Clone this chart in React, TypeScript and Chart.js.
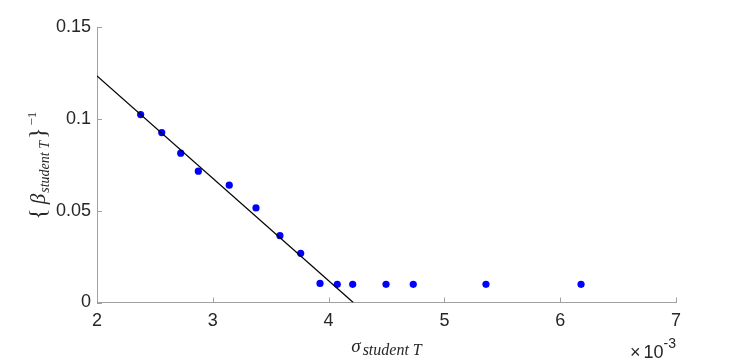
import React, { useEffect, useRef } from "react";
import { Chart, registerables } from "chart.js";

Chart.register(...registerables);

// sigma_student T, in units of 1e-3
const sigmaValues = [2.377, 2.559, 2.723, 2.875, 3.142, 3.373, 3.58, 3.759, 3.926, 4.075, 4.208, 4.496, 4.731, 5.359, 6.18];
const invBetaValues = [0.1023, 0.0925, 0.0813, 0.0715, 0.0639, 0.0515, 0.0364, 0.0268, 0.0104, 0.0099, 0.0099, 0.0099, 0.0099, 0.0099, 0.0099];
// fitted line end points
const fitSigma = [2, 4.213];
const fitInvBeta = [0.1234, 0];
const xTicks = [2, 3, 4, 5, 6, 7];
const yTicks = [0, 0.05, 0.1, 0.15];
const yTickLabels = ["0", "0.05", "0.1", "0.15"];

const AXIS_COLOR = "#a0a0a0";
const TEXT_COLOR = "#262626";
const SERIF = "'Liberation Serif', 'DejaVu Serif', serif";
const SANS = "'Liberation Sans', Arial, sans-serif";

type Piece = { t: string; f: string; dy: number; gap: number };

function drawPieces(ctx: CanvasRenderingContext2D, pieces: Piece[], cx: number, base: number) {
  const widths = pieces.map((p) => {
    ctx.font = p.f;
    return ctx.measureText(p.t).width;
  });
  const total = widths.reduce((a, w, i) => a + w + (i < pieces.length - 1 ? pieces[i].gap : 0), 0);
  let x = cx - total / 2;
  ctx.textAlign = "left";
  pieces.forEach((p, i) => {
    ctx.font = p.f;
    ctx.fillText(p.t, x, base + p.dy);
    x += widths[i] + p.gap;
  });
}

const decorPlugin = {
  id: "decor",
  afterDraw(chart: any) {
    const ctx = chart.ctx as CanvasRenderingContext2D;
    const xs = chart.scales.x;
    const ys = chart.scales.y;
    const area = chart.chartArea;
    ctx.save();
    // inward tick marks
    ctx.strokeStyle = AXIS_COLOR;
    ctx.lineWidth = 1;
    ctx.beginPath();
    for (const t of xTicks) {
      const px = Math.round(xs.getPixelForValue(t)) + 0.5;
      ctx.moveTo(px, area.bottom);
      ctx.lineTo(px, area.bottom - 5);
    }
    for (const t of yTicks) {
      const py = Math.round(ys.getPixelForValue(t)) + 0.5;
      ctx.moveTo(area.left, py);
      ctx.lineTo(area.left + 5, py);
    }
    ctx.stroke();

    ctx.fillStyle = TEXT_COLOR;
    ctx.textBaseline = "alphabetic";
    // x label: sigma_{student T}
    drawPieces(
      ctx,
      [
        { t: "σ", f: `italic 19px ${SERIF}`, dy: 0, gap: 2 },
        { t: "student T", f: `italic 16px ${SERIF}`, dy: 3, gap: 0 },
      ],
      (area.left + area.right) / 2,
      352
    );
    // y label: {beta_{student T}}^{-1}, rotated
    ctx.save();
    ctx.translate(45, (area.top + area.bottom) / 2 + 1);
    ctx.rotate(-Math.PI / 2);
    drawPieces(
      ctx,
      [
        { t: "{", f: `24px ${SERIF}`, dy: 0, gap: 4 },
        { t: "β", f: `italic 21px ${SERIF}`, dy: 0, gap: 1 },
        { t: "student T", f: `italic 14px ${SERIF}`, dy: 4, gap: 2 },
        { t: "}", f: `24px ${SERIF}`, dy: 0, gap: 2 },
        { t: "−1", f: `13px ${SERIF}`, dy: -9, gap: 0 },
      ],
      0,
      0
    );
    ctx.restore();
    // exponent label x10^-3
    {
      const fMain = `18px ${SANS}`;
      const fSup = `14px ${SANS}`;
      ctx.textAlign = "left";
      ctx.font = fSup;
      const ws = ctx.measureText("-3").width;
      ctx.font = fMain;
      const w10 = ctx.measureText("10").width;
      const wx = ctx.measureText("×").width;
      const x10 = area.right - ws - w10;
      ctx.fillText("10", x10, 358);
      ctx.fillText("×", x10 - wx - 3, 358);
      ctx.font = fSup;
      ctx.fillText("-3", x10 + w10, 348);
    }
    ctx.restore();
  },
};

export default function App() {
  const ref = useRef<HTMLCanvasElement | null>(null);
  useEffect(() => {
    document.body.style.margin = "0";
    const canvas = ref.current!;
    const chart = new Chart(canvas, {
      type: "scatter",
      data: {
        datasets: [
          {
            type: "line",
            data: fitSigma.map((x, i) => ({ x, y: fitInvBeta[i] })),
            borderColor: "#000000",
            borderWidth: 1.2,
            pointRadius: 0,
            fill: false,
          } as any,
          {
            type: "scatter",
            data: sigmaValues.map((x, i) => ({ x, y: invBetaValues[i] })),
            backgroundColor: "#0000ff",
            borderColor: "#0000ff",
            pointRadius: 3.6,
            borderWidth: 0,
          },
        ],
      },
      options: {
        animation: false,
        responsive: false,
        maintainAspectRatio: false,
        layout: { padding: { left: 0, right: 71, top: 27, bottom: 0 } },
        plugins: {
          legend: { display: false },
          tooltip: { enabled: false },
        },
        scales: {
          x: {
            type: "linear",
            min: 2,
            max: 7,
            afterBuildTicks: (s: any) => {
              s.ticks = xTicks.map((v) => ({ value: v }));
            },
            afterFit: (s: any) => {
              s.height = 60.5;
            },
            grid: { display: false, drawTicks: false, tickLength: 0 },
            border: { display: true, color: AXIS_COLOR, width: 1 },
            ticks: {
              color: TEXT_COLOR,
              font: { family: SANS, size: 18 },
              padding: 8,
              maxRotation: 0,
              callback: (v: any) => String(v),
            },
          },
          y: {
            type: "linear",
            min: 0,
            max: 0.15,
            afterBuildTicks: (s: any) => {
              s.ticks = yTicks.map((v) => ({ value: v }));
            },
            afterFit: (s: any) => {
              s.width = 97;
            },
            grid: { display: false, drawTicks: false, tickLength: 0 },
            border: { display: true, color: AXIS_COLOR, width: 1 },
            ticks: {
              color: TEXT_COLOR,
              font: { family: SANS, size: 18 },
              padding: 6,
              callback: (v: any) => {
                const i = yTicks.indexOf(v);
                return i >= 0 ? yTickLabels[i] : "";
              },
            },
          },
        },
      },
      plugins: [decorPlugin],
    });
    return () => chart.destroy();
  }, []);
  return (
    <div style={{ width: 747, height: 363, background: "#fff" }}>
      <canvas ref={ref} width={747} height={363} style={{ display: "block" }} />
    </div>
  );
}
